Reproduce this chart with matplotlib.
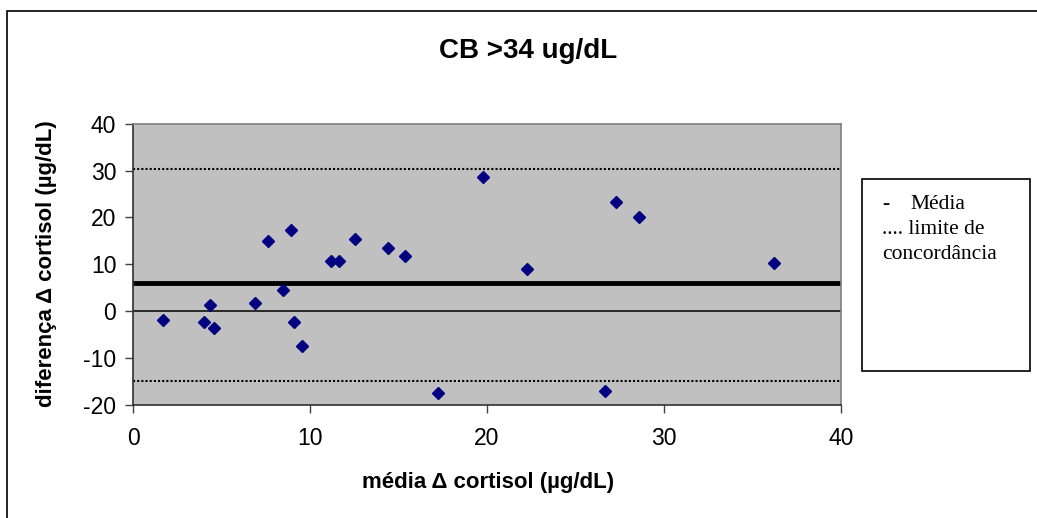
import matplotlib
matplotlib.use("Agg")
import matplotlib.pyplot as plt
from matplotlib.patches import Rectangle

# media e diferenca do delta de cortisol (ug/dL), um ponto por paciente
media = [1.68, 4.02, 4.33, 4.59, 6.87, 7.64, 8.47, 8.92, 9.10, 9.54, 11.21,
         11.66, 12.57, 14.41, 15.36, 17.25, 19.79, 22.24, 26.68, 27.31, 28.60, 36.21]
diferenca = [-1.9, -2.2, 1.4, -3.5, 1.8, 15.0, 4.5, 17.4, -2.2, -7.5, 10.7,
             10.7, 15.4, 13.4, 11.8, -17.4, 28.6, 9.0, -17.0, 23.4, 20.2, 10.2]

media_dif = 6.0
limite_sup = 30.3
limite_inf = -14.9

x_ticks = [0, 10, 20, 30, 40]
y_ticks = [-20, -10, 0, 10, 20, 30, 40]

plt.rcParams["axes.unicode_minus"] = False

W, H = 1037, 518
fig = plt.figure(figsize=(W / 100, H / 100), dpi=100)

def fx(px):
    return px / W

def fy(py):
    return 1 - py / H

# moldura externa do grafico
fig.patches.append(Rectangle((fx(7), fy(600)), fx(1100), fy(11) - fy(600),
                             transform=fig.transFigure, fill=False,
                             edgecolor="black", linewidth=1.2))

ax = fig.add_axes([fx(133), fy(405), fx(841) - fx(133), fy(123.7) - fy(405)])
ax.set_facecolor("#C0C0C0")

ax.axhline(0, color="black", linewidth=1.1, zorder=1)
ax.axhline(media_dif, color="black", linewidth=3.5, zorder=2)
for lim in (limite_sup, limite_inf):
    ax.axhline(lim, color="black", linewidth=1.5, linestyle=(0, (1, 1)), zorder=2)

ax.plot(media, diferenca, linestyle="none", marker="D", markersize=6.2,
        color="#000080", markeredgecolor="#000080", zorder=3)

ax.set_xlim(0, 40)
ax.set_ylim(-20, 40)
ax.set_xticks(x_ticks)
ax.set_yticks(y_ticks)
ax.tick_params(direction="out", length=6, width=1, color="#404040",
               labelsize=16.5, labelfontfamily="Liberation Sans")
ax.tick_params(axis="y", pad=6)
ax.tick_params(axis="x", pad=10)

for side in ("top", "right"):
    ax.spines[side].set_color("#808080")
    ax.spines[side].set_linewidth(1.2)
for side in ("left", "bottom"):
    ax.spines[side].set_color("#303030")
    ax.spines[side].set_linewidth(1.2)

fig.text(fx(528.5), fy(58), "CB >34 ug/dL", ha="center", va="baseline",
         fontsize=20, fontweight="bold", family="Liberation Sans")
fig.text(fx(488.5), fy(488), "média Δ cortisol (µg/dL)", ha="center", va="baseline",
         fontsize=16, fontweight="bold", family="Liberation Sans")
fig.text(fx(47), fy(264), "diferença Δ cortisol (µg/dL)", ha="center", va="center",
         rotation=90, fontsize=16, fontweight="bold", family="Liberation Sans")

# caixa de legenda escrita a mao
fig.patches.append(Rectangle((fx(862), fy(371)), fx(1030) - fx(862), fy(179) - fy(371),
                             transform=fig.transFigure, facecolor="white",
                             edgecolor="black", linewidth=1.2))
leg_font = dict(fontsize=15.5, family="Liberation Serif", va="baseline", ha="left")
fig.text(fx(882), fy(209), "-", fontweight="bold", **leg_font)
fig.text(fx(910), fy(209), "Média", **leg_font)
fig.text(fx(882), fy(234), ".... limite de", **leg_font)
fig.text(fx(882), fy(259), "concordância", **leg_font)

fig.savefig("out.png", dpi=100)
